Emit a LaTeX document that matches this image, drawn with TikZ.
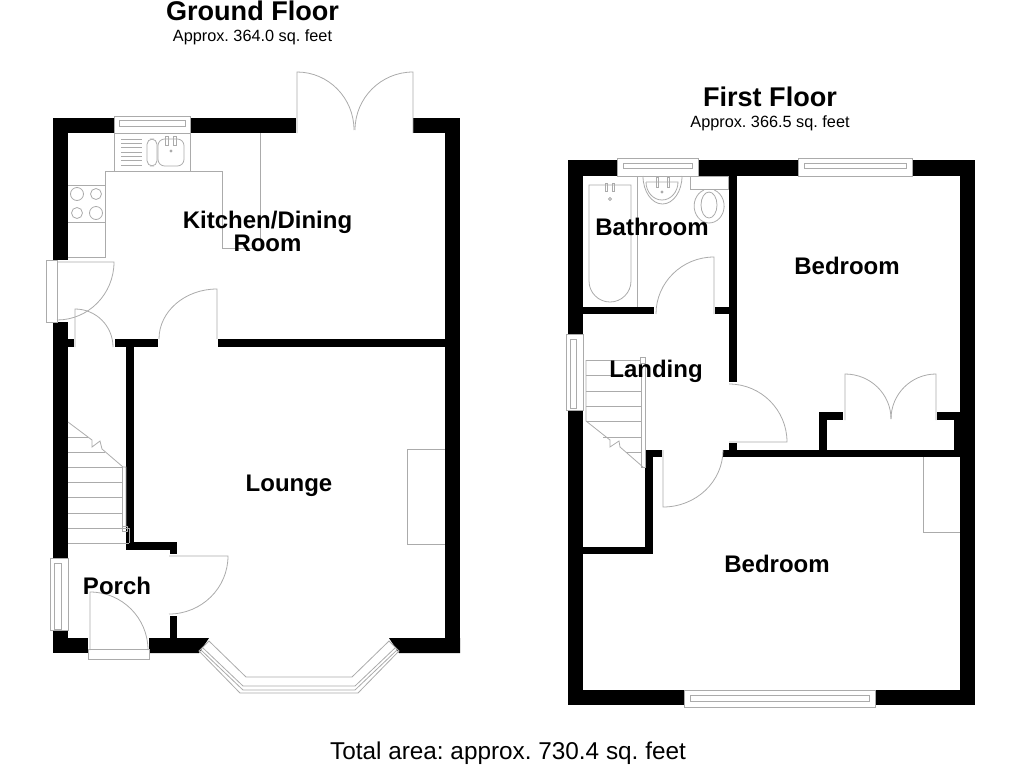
\documentclass[tikz,border=0pt]{standalone}
\usepackage{fontspec}
\setmainfont{Liberation Sans}
\frenchspacing
\begin{document}
\begin{tikzpicture}[x=0.75pt,y=-0.75pt]
	\tikzset{wall/.style={fill=black,draw=none},fixture/.style={draw=black!33,line width=0.6pt},
		room/.style={font=\bfseries\fontsize{18}{17.25}\selectfont,align=center,inner sep=0pt},
		floorname/.style={font=\bfseries\fontsize{20.3}{22}\selectfont,inner sep=0pt},
		approx/.style={font=\fontsize{12.2}{14}\selectfont,inner sep=0pt}}
	\useasboundingbox (0,0) rectangle (1024,768);

	\foreach \xa/\ya/\xb/\yb in {53/118/114/133,190/118/296/133,413/118/460/133,53/118/68/260,53/322/68/558,
		53/630/68/653,445/118/460/653,53/638/88/653,68/339/74/347,115/339/158/347,218/339/445/347,126/347/134/550,
		126/542/177/550,170/542/177/554,170/616/177/638}
		\fill[wall] (\xa,\ya) rectangle (\xb,\yb);
	\fill[wall] (149,638) -- (209,638) -- (199,653) -- (149,653) -- cycle;
	\fill[wall] (389,638) -- (460,638) -- (460,653) -- (399,653) -- cycle;

	\draw[fixture] (114,116) rectangle (190,133);
	\draw[fixture] (119,120) rectangle (185,126);
	\draw[fixture] (114,133) -- (114,171) (190,133) -- (190,171);
	\draw[fixture] (68,257) -- (105,257) -- (105,171) -- (222,171) -- (222,248) -- (260,248) -- (260,133);
	\draw[fixture] (68,185) -- (105,185) (68,222) -- (105,222);
	\draw[fixture] (77,194) circle[radius=6.5] (96,194) circle[radius=5.5];
	\draw[fixture] (77,213) circle[radius=5.5] (96,213) circle[radius=6.5];
	\foreach \y in {139,143.3,147.6,151.9,156.2,160.5,165}
		\draw[fixture] (121,\y) -- (142,\y);
	\draw[fixture,rounded corners=4pt] (147,139) rectangle (157,166);
	\draw[fixture,rounded corners=5pt] (158,139) rectangle (184,166);
	\foreach \x in {167,175}
		\draw[fixture] (\x-1.5,136) rectangle (\x+1.5,145);
	\draw[fixture] (171,151) circle[radius=1];

	\draw[fixture] (46,260) rectangle (57,322);
	\draw[fixture] (57,262) -- (114,262) arc[start angle=0,end angle=90,x radius=57,y radius=58];
	\draw[fixture] (75,347) -- (75,309) arc[start angle=270,end angle=360,radius=38];
	\draw[fixture] (217,339) -- (217,289) arc[start angle=270,end angle=180,x radius=58,y radius=50];

	\foreach \y/\xb in {437/88,452/105,467/122,482/122,497/122,513/122,528/129,543/129}
		\draw[fixture] (68,\y) -- (\xb,\y);
	\draw[fixture] (68,422) -- (92,440) -- (92,447) -- (100,441) -- (102,449) -- (123,467) -- (126,467) -- (126,527);
	\draw[fixture] (122.5,467) -- (122.5,527) (129,528) -- (129,543);
	\draw[fixture] (122,526) rectangle (127,531);

	\draw[fixture] (50,558) rectangle (68,630);
	\draw[fixture] (54,563) rectangle (61,629);
	\draw[fixture] (88,649) rectangle (149,659);
	\draw[fixture] (90,650) -- (90,592) arc[start angle=270,end angle=360,radius=58];
	\draw[fixture] (169,556) -- (228,556) arc[start angle=0,end angle=90,x radius=59,y radius=58];
	\draw[fixture] (407,544) -- (407,449) -- (445,449) (407,544) -- (445,544);

	\draw[fixture] (297,133) -- (297,72) arc[start angle=270,end angle=360,x radius=57,y radius=58];
	\draw[fixture] (413,133) -- (413,72) arc[start angle=270,end angle=180,x radius=58,y radius=58];

	\draw[fixture] (199,651) -- (240,693) -- (358,693) -- (399,651) -- (389,641) -- (352,677) -- (246,677) -- (209,641) -- cycle;
	\draw[fixture] (203,648) -- (243,686) -- (355,686) -- (395,648);
	\draw[fixture] (201,650) -- (243,690) -- (355,690) -- (397,650);

	\foreach \xa/\ya/\xb/\yb in {568/160/617/176,698/160/798/176,912/160/975/176,568/160/583/335,568/410/583/705,
		960/160/975/705,568/690/684/705,875/690/975/705,729/176/737/382,729/443/737/450,723/450/960/457,
		645/450/662/457,645/450/653/554,583/547/653/554,583/307/654/314,715/307/729/314,
		819/412/827/450,819/412/843/420,937/412/960/420,954/412/960/450}
		\fill[wall] (\xa,\ya) rectangle (\xb,\yb);

	\draw[fixture] (617,158) rectangle (698,176);
	\draw[fixture] (623,163) rectangle (692,168);
	\draw[fixture] (798,158) rectangle (912,176);
	\draw[fixture] (804,163) rectangle (906,168);
	\draw[fixture] (684,690) rectangle (875,707);
	\draw[fixture] (690,695) rectangle (869,701);
	\draw[fixture] (566,334) rectangle (583,410);
	\draw[fixture] (570,339) rectangle (576,408);

	\draw[fixture] (637,176) -- (637,307);
	\draw[fixture] (589,281) -- (589,185) -- (631,185) -- (631,281) arc[start angle=0,end angle=180,radius=21];
	\foreach \x in {606,613}
		\draw[fixture] (\x-1,183) rectangle (\x+1,191);
	\draw[fixture] (610,199) circle[radius=1.5];
	\draw[fixture] (643,176) arc[start angle=180,end angle=0,x radius=19.5,y radius=28];
	\draw[fixture] (646,182) -- (678,182) arc[start angle=0,end angle=180,x radius=16,y radius=18];
	\foreach \x in {657,668}
		\draw[fixture] (\x-1,177) rectangle (\x+1,187);
	\draw[fixture] (662,192) circle[radius=1];
	\draw[fixture] (690,176) rectangle (728,189);
	\draw[fixture] (704,190) arc[start angle=250,end angle=-70,x radius=15,y radius=17];
	\draw[fixture] (709,205) ellipse[x radius=8,y radius=13];

	\draw[fixture] (714,314) -- (714,257) arc[start angle=270,end angle=180,x radius=58,y radius=57];
	\draw[fixture] (729,442) -- (787,442) arc[start angle=0,end angle=-90,x radius=58,y radius=58];
	\draw[fixture] (663,450) -- (663,507) arc[start angle=90,end angle=0,x radius=60,y radius=57];

	\foreach \xa/\y in {586/360,586/375,586/391,586/406,586/421,603/437,626/452}
		\draw[fixture] (\xa,\y) -- (641,\y);
	\draw[fixture] (586,360) -- (586,421) -- (610,440) -- (610,447) -- (619,441) -- (620,447) -- (643,467);
	\draw[fixture] (641,363) -- (641,467) -- (645,467) -- (645,363);
	\draw[fixture] (640,357) rectangle (645,363);

	\draw[fixture] (845,420) -- (845,374) arc[start angle=270,end angle=360,x radius=46,y radius=45];
	\draw[fixture] (936,420) -- (936,374) arc[start angle=270,end angle=180,x radius=45,y radius=45];
	\draw[fixture] (923,457) -- (923,532) -- (960,532);

	\node[floorname] (groundtitle) at (252.5,11) {Ground Floor};
	\node[approx] (groundarea) at (252.5,37.5) {Approx. 364.0 sq. feet};
	\node[floorname] (firsttitle) at (770,97) {First Floor};
	\node[approx] (firstarea) at (770,123.5) {Approx. 366.5 sq. feet};
	\node[room] (kitchen) at (267.5,231) {Kitchen/Dining\\Room};
	\node[room] (lounge) at (289,486) {Lounge};
	\node[room] (porch) at (117,586) {Porch};
	\node[room] (bathroom) at (652,227) {Bathroom};
	\node[room] (landing) at (656,371) {Landing};
	\node[room] (bedrooma) at (847,266) {Bedroom};
	\node[room] (bedroomb) at (777,564) {Bedroom};
	\node[font=\fontsize{18.25}{20}\selectfont,inner sep=0pt] (total) at (508,753) {Total area: approx. 730.4 sq. feet};
\end{tikzpicture}
\end{document}
